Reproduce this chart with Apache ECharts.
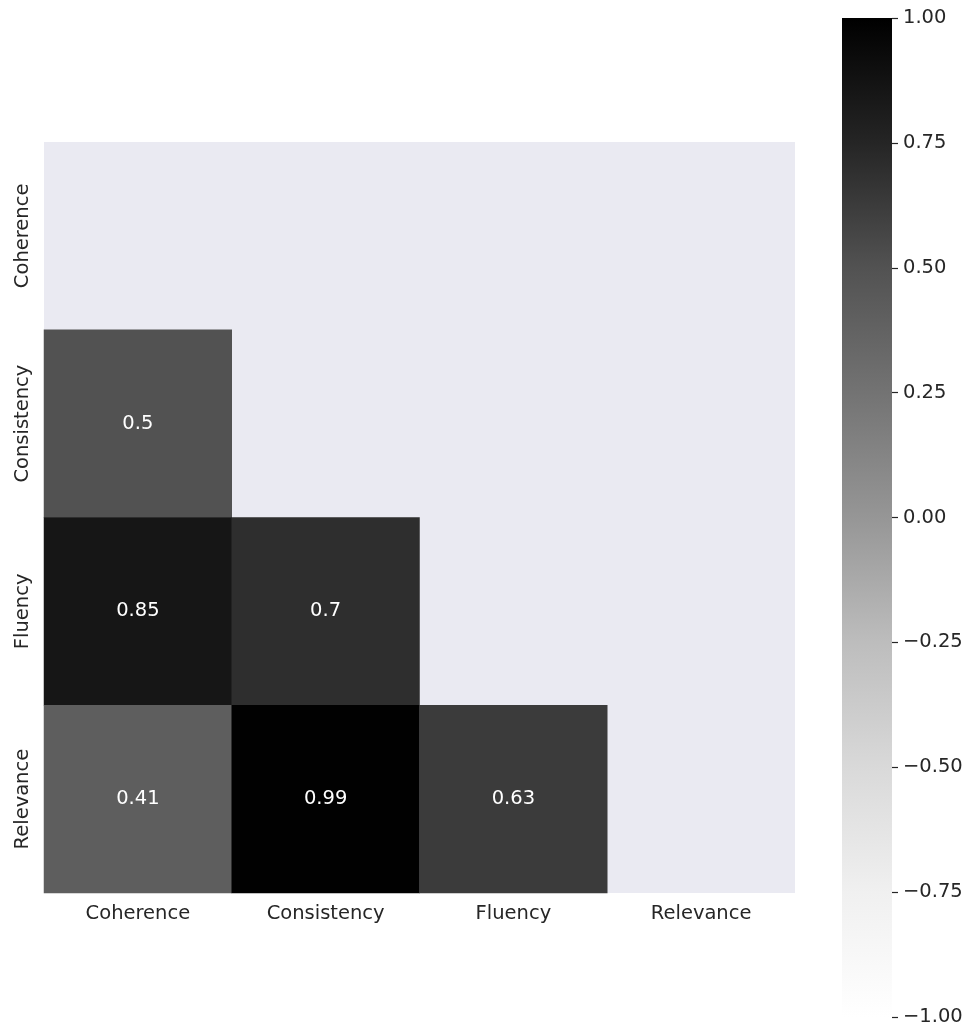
<!DOCTYPE html>
<html>
<head>
<meta charset="utf-8">
<script src="https://cdn.jsdelivr.net/npm/echarts@6/dist/echarts.min.js"></script>
<style>
  html, body { margin: 0; padding: 0; background: #ffffff; }
  #chart { width: 968px; height: 1030px; }
</style>
</head>
<body>
<div id="chart"></div>
<script>
// Metric names used on both axes
const metrics = ['Coherence', 'Consistency', 'Fluency', 'Relevance'];

// Lower-triangle correlations: [column index, row index, value]
const correlations = [
  [0, 1, 0.5],
  [0, 2, 0.85],
  [1, 2, 0.7],
  [0, 3, 0.41],
  [1, 3, 0.99],
  [2, 3, 0.63]
];

// Colour scale range and colour bar ticks
const scaleMin = -1;
const scaleMax = 1;
const tickStep = 0.25;

// Greys ramp, from low (white) to high (black)
const greys = ['#ffffff', '#f0f0f0', '#d9d9d9', '#bdbdbd', '#969696',
               '#737373', '#525252', '#252525', '#000000'];

const FONT = 'DejaVu Sans';
const TEXT = '#262626';

const chart = echarts.init(document.getElementById('chart'), null, { renderer: 'canvas' });

const gradientStops = greys.map((c, i) => ({ offset: 1 - i / (greys.length - 1), color: c }));

chart.setOption({
  animation: false,
  backgroundColor: '#ffffff',
  textStyle: { fontFamily: FONT },
  grid: [
    { left: 44, top: 142, width: 751, height: 751, show: true,
      backgroundColor: '#EAEAF2', borderWidth: 0 },
    { left: 842, top: 18, width: 50, height: 999, show: false }
  ],
  xAxis: [
    { type: 'category', gridIndex: 0, data: metrics,
      axisLine: { show: false }, axisTick: { show: false }, splitLine: { show: false },
      axisLabel: { color: TEXT, fontSize: 19.5, fontFamily: FONT, margin: 11 } },
    { type: 'value', gridIndex: 1, min: 0, max: 1, show: false }
  ],
  yAxis: [
    { type: 'category', gridIndex: 0, data: metrics, inverse: true,
      axisLine: { show: false }, axisTick: { show: false }, splitLine: { show: false },
      axisLabel: { color: TEXT, fontSize: 19.5, fontFamily: FONT, rotate: 90, margin: 11 } },
    { type: 'value', gridIndex: 1, position: 'right', min: scaleMin, max: scaleMax, interval: tickStep,
      axisLine: { show: false, onZero: false }, splitLine: { show: false },
      axisTick: { show: true, length: 6, lineStyle: { color: TEXT, width: 1.2 } },
      axisLabel: { color: TEXT, fontSize: 19.5, fontFamily: FONT, margin: 11,
        formatter: v => (v < 0 ? '\u2212' : '') + Math.abs(v).toFixed(2) } }
  ],
  visualMap: {
    show: false, type: 'continuous', min: scaleMin, max: scaleMax,
    seriesIndex: 0, inRange: { color: greys }
  },
  series: [
    {
      type: 'heatmap', xAxisIndex: 0, yAxisIndex: 0,
      data: correlations,
      label: { show: true, color: '#ffffff', fontSize: 19.5, fontFamily: FONT,
        formatter: p => String(p.value[2]) },
      itemStyle: { borderWidth: 0 },
      emphasis: { disabled: true }
    },
    {
      type: 'custom', xAxisIndex: 1, yAxisIndex: 1,
      data: [[0, scaleMin, 1, scaleMax]],
      renderItem: (params, api) => {
        const p0 = api.coord([api.value(0), api.value(3)]);
        const p1 = api.coord([api.value(2), api.value(1)]);
        return {
          type: 'rect',
          shape: { x: p0[0], y: p0[1], width: p1[0] - p0[0], height: p1[1] - p0[1] },
          style: { fill: new echarts.graphic.LinearGradient(0, 0, 0, 1, gradientStops) }
        };
      },
      silent: true
    }
  ]
});
</script>
</body>
</html>
